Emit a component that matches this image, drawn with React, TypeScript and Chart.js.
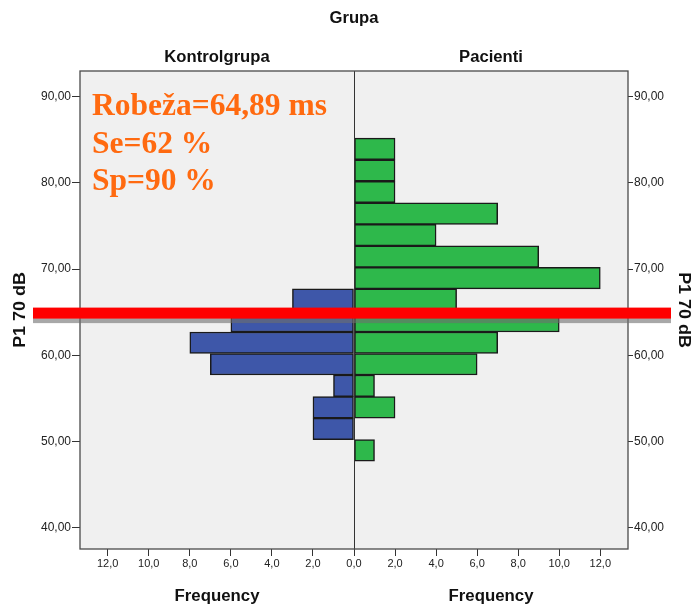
import { useEffect, useRef } from "react";
import { Chart, registerables } from "chart.js";

Chart.register(...registerables);

// P1 70 dB histogram: bin midpoints (bins are 2.5 wide) and counts per group
const binMidpoints = [48.95, 51.45, 53.95, 56.45, 58.95, 61.45, 63.95, 66.45, 68.95, 71.45, 73.95, 76.45, 78.95, 81.45, 83.95];
const kontrolgrupaCounts = [0, 2, 2, 1, 7, 8, 6, 3, 0, 0, 0, 0, 0, 0, 0];
const pacientiCounts = [1, 0, 2, 1, 6, 7, 10, 5, 12, 9, 4, 7, 2, 2, 2];

const groupTitle = "Grupa";
const groupNames = ["Kontrolgrupa", "Pacienti"];
const valueAxisTitle = "P1 70 dB";
const frequencyTitle = "Frequency";

const valueRange = [37.5, 93];
const frequencyLimit = 13.35;

// Cut-off value and its summary
const cutoffValue = 64.89;
const cutoffLines = ["Robeža=64,89 ms", "Se=62 %", "Sp=90 %"];

const SANS = "'Liberation Sans', Arial, sans-serif";
const SERIF = "'Liberation Serif', 'Times New Roman', serif";

function drawText(
  ctx: CanvasRenderingContext2D,
  text: string,
  x: number,
  y: number,
  font: string,
  color: string,
  align: CanvasTextAlign,
  baseline: CanvasTextBaseline = "alphabetic",
  rotation = 0,
  stretch = 1
) {
  ctx.save();
  ctx.translate(x, y);
  if (rotation) ctx.rotate(rotation);
  if (stretch !== 1) ctx.scale(stretch, 1);
  ctx.font = font;
  ctx.fillStyle = color;
  ctx.textAlign = align;
  ctx.textBaseline = baseline;
  ctx.fillText(text, 0, 0);
  ctx.restore();
}

const pyramidPlugin = {
  id: "pyramidDecor",
  beforeDatasetsDraw(chart: any) {
    const { ctx, chartArea: a } = chart;
    ctx.save();
    ctx.fillStyle = "#F0F0F0";
    ctx.fillRect(a.left, a.top, a.right - a.left, a.bottom - a.top);
    ctx.restore();
  },
  afterDatasetsDraw(chart: any) {
    const { ctx, chartArea: a, scales } = chart;
    const zeroX = Math.round(scales.x.getPixelForValue(0)) + 0.5;
    ctx.save();
    ctx.strokeStyle = "#333333";
    ctx.lineWidth = 1;
    ctx.beginPath();
    ctx.moveTo(zeroX, a.top);
    ctx.lineTo(zeroX, a.bottom);
    ctx.stroke();
    ctx.strokeStyle = "#4a4a4a";
    ctx.lineWidth = 1.3;
    ctx.strokeRect(a.left, a.top, a.right - a.left, a.bottom - a.top);
    ctx.restore();
  },
  afterDraw(chart: any) {
    const { ctx, chartArea: a, scales } = chart;
    const zeroX = scales.x.getPixelForValue(0);
    const leftCenter = (a.left + zeroX) / 2;
    const rightCenter = (zeroX + a.right) / 2;
    const midY = (a.top + a.bottom) / 2;
    const bold = `bold 16px ${SANS}`;

    // Headers
    drawText(ctx, groupTitle, zeroX, 23, bold, "#111", "center", "alphabetic", 0, 1.04);
    drawText(ctx, groupNames[0], leftCenter, 62, bold, "#111", "center", "alphabetic", 0, 1.04);
    drawText(ctx, groupNames[1], rightCenter, 62, bold, "#111", "center", "alphabetic", 0, 1.04);

    // Frequency titles under each panel
    drawText(ctx, frequencyTitle, leftCenter, 601, bold, "#111", "center", "alphabetic", 0, 1.05);
    drawText(ctx, frequencyTitle, rightCenter, 601, bold, "#111", "center", "alphabetic", 0, 1.05);

    // Value axis titles on both sides
    const axisFont = `bold 16px ${SANS}`;
    drawText(ctx, valueAxisTitle, 21, midY, axisFont, "#111", "center", "middle", -Math.PI / 2, 1.12);
    drawText(ctx, valueAxisTitle, 683, midY, axisFont, "#111", "center", "middle", Math.PI / 2, 1.12);

    // Cut-off line with a soft shadow
    const cy = scales.y.getPixelForValue(cutoffValue);
    const x0 = a.left - 47;
    const x1 = a.right + 43;
    ctx.save();
    ctx.fillStyle = "rgba(110,110,110,0.6)";
    ctx.fillRect(x0, cy + 5, x1 - x0, 5);
    ctx.fillStyle = "#FF0000";
    ctx.fillRect(x0, cy - 5.5, x1 - x0, 11);
    ctx.restore();

    // Cut-off summary text
    const serifBold = `bold 31.5px ${SERIF}`;
    cutoffLines.forEach((line, i) => {
      drawText(ctx, line, a.left + 12, 115 + i * 37.5, serifBold, "#FF6A10", "left");
    });
  },
};

function makeBars(counts: number[], sign: number) {
  return binMidpoints
    .map((y, i) => ({ x: sign * counts[i], y }))
    .filter((p) => p.x !== 0);
}

export default function App() {
  const canvasRef = useRef<HTMLCanvasElement | null>(null);

  useEffect(() => {
    document.body.style.margin = "0";
    const canvas = canvasRef.current;
    if (!canvas) return;

    const tickColor = "#222222";
    const chart = new Chart(canvas, {
      type: "bar",
      data: {
        datasets: [
          {
            label: groupNames[0],
            data: makeBars(kontrolgrupaCounts, -1),
            backgroundColor: "#3E57A9",
            borderColor: "#1a1a1a",
            borderWidth: 1.5,
            borderSkipped: false,
            barPercentage: 1,
            categoryPercentage: 1,
          },
          {
            label: groupNames[1],
            data: makeBars(pacientiCounts, 1),
            backgroundColor: "#2EB84B",
            borderColor: "#1a1a1a",
            borderWidth: 1.5,
            borderSkipped: false,
            barPercentage: 1,
            categoryPercentage: 1,
          },
        ],
      } as any,
      options: {
        indexAxis: "y",
        animation: false,
        responsive: false,
        devicePixelRatio: 1,
        events: [],
        layout: { padding: { top: 71, left: 0, right: 0, bottom: 0 } },
        plugins: {
          legend: { display: false },
          tooltip: { enabled: false },
          title: { display: false },
        },
        scales: {
          x: {
            type: "linear",
            stacked: true,
            min: -frequencyLimit,
            max: frequencyLimit,
            border: { display: false },
            grid: { drawOnChartArea: false, drawTicks: true, tickLength: 7, tickColor: "#333", color: "#333" },
            ticks: {
              stepSize: 2,
              includeBounds: false,
              autoSkip: false,
              maxRotation: 0,
              padding: 1,
              color: tickColor,
              font: { family: SANS, size: 11 },
              callback: (v: any) => Math.abs(Number(v)).toFixed(1).replace(".", ","),
            },
            afterFit: (s: any) => {
              s.height = 59;
            },
          },
          y: {
            type: "linear",
            stacked: true,
            position: "left",
            offset: false,
            min: valueRange[0],
            max: valueRange[1],
            border: { display: false },
            grid: { offset: false, drawOnChartArea: false, drawTicks: true, tickLength: 8, tickColor: "#333", color: "#333" },
            ticks: {
              stepSize: 10,
              includeBounds: false,
              padding: 1,
              color: tickColor,
              font: { family: SANS, size: 12 },
              callback: (v: any) => Number(v).toFixed(2).replace(".", ","),
            },
            afterFit: (s: any) => {
              s.width = 80;
            },
          },
          y2: {
            type: "linear",
            position: "right",
            offset: false,
            min: valueRange[0],
            max: valueRange[1],
            border: { display: false },
            grid: { offset: false, drawOnChartArea: false, drawTicks: true, tickLength: 5, tickColor: "#333", color: "#333" },
            ticks: {
              stepSize: 10,
              includeBounds: false,
              padding: 1,
              color: tickColor,
              font: { family: SANS, size: 12 },
              callback: (v: any) => Number(v).toFixed(2).replace(".", ","),
            },
            afterFit: (s: any) => {
              s.width = 65;
            },
          },
        },
      } as any,
      plugins: [pyramidPlugin],
    });

    return () => chart.destroy();
  }, []);

  return (
    <div style={{ width: 693, height: 608, background: "#fff" }}>
      <canvas ref={canvasRef} width={693} height={608} style={{ display: "block" }} />
    </div>
  );
}
